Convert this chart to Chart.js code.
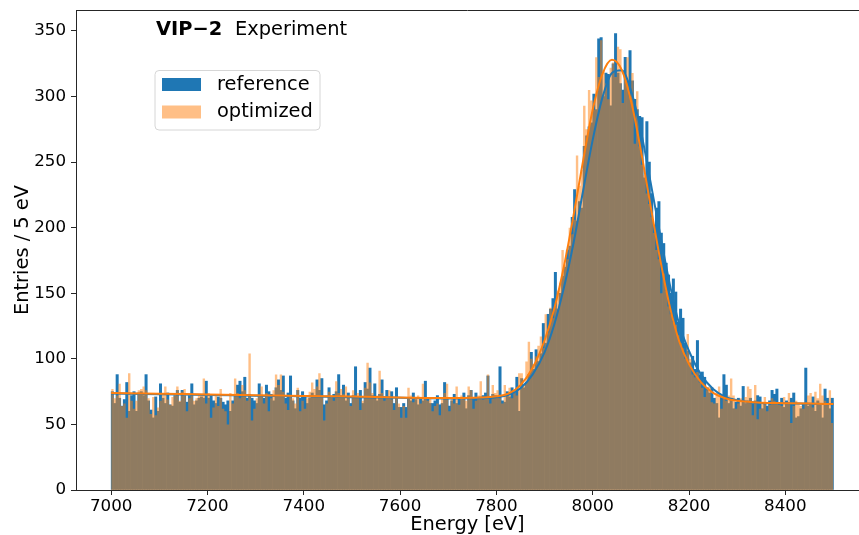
<!DOCTYPE html>
<html>
<head>
<meta charset="utf-8">
<title>VIP-2 Experiment</title>
<script src="https://cdn.jsdelivr.net/npm/chart.js@4.4.1/dist/chart.umd.min.js"></script>
<style>
  html, body { margin: 0; padding: 0; background: #fff; }
  #chart { display: block; }
</style>
</head>
<body>
<canvas id="chart" width="859" height="535"></canvas>
<script>
// histogram: 300 bins of 5 eV from 7000 to 8500 eV
const binStart = 7000;
const binWidth = 5;

// entries per bin, reference setup (blue)
const refCounts = [
  75, 66, 88, 70, 64, 69, 82, 60, 72, 75,
  60, 74, 75, 72, 88, 68, 61, 55, 71, 60,
  81, 70, 66, 74, 65, 64, 72, 76, 67, 76,
  72, 67, 72, 81, 65, 68, 70, 71, 70, 83,
  70, 72, 68, 66, 71, 70, 67, 65, 68, 60,
  68, 72, 80, 83, 75, 86, 70, 73, 70, 68,
  66, 81, 72, 70, 80, 75, 73, 68, 78, 84,
  76, 87, 70, 74, 87, 68, 62, 76, 70, 75,
  72, 66, 70, 74, 71, 84, 76, 85, 65, 68,
  78, 70, 73, 75, 88, 72, 80, 68, 74, 66,
  72, 94, 70, 76, 66, 82, 77, 93, 72, 81,
  68, 73, 84, 71, 76, 70, 75, 66, 78, 63,
  63, 66, 63, 70, 68, 74, 69, 65, 70, 68,
  83, 70, 66, 66, 68, 72, 65, 66, 82, 70,
  64, 68, 73, 66, 70, 69, 74, 62, 72, 76,
  70, 74, 70, 71, 72, 74, 87, 70, 73, 72,
  70, 94, 68, 67, 75, 71, 78, 74, 86, 60,
  85, 78, 82, 88, 105, 92, 107, 98, 104, 127,
  112, 134, 138, 146, 166, 138, 150, 163, 170, 183,
  186, 208, 229, 205, 220, 215, 262, 270, 277, 280,
  302, 290, 344, 345, 300, 318, 317, 293, 325, 348,
  318, 310, 305, 330, 312, 335, 312, 298, 290, 285,
  284, 238, 281, 250, 226, 202, 215, 220, 196, 188,
  173, 164, 150, 161, 151, 128, 138, 131, 112, 106,
  97, 102, 92, 114, 88, 90, 86, 78, 74, 78,
  70, 66, 55, 72, 88, 80, 66, 70, 62, 67,
  70, 64, 79, 66, 68, 70, 66, 68, 72, 71,
  62, 66, 64, 68, 76, 73, 77, 66, 70, 63,
  68, 66, 70, 74, 55, 56, 62, 66, 93, 64,
  66, 71, 60, 68, 66, 55, 77, 70, 62, 70
];

// entries per bin, optimized setup (orange)
const optCounts = [
  77, 70, 72, 81, 64, 66, 55, 89, 68, 62,
  68, 76, 77, 79, 76, 70, 58, 71, 57, 63,
  68, 74, 79, 69, 65, 71, 74, 79, 68, 75,
  77, 60, 70, 72, 68, 70, 72, 73, 85, 66,
  74, 55, 63, 72, 64, 77, 62, 60, 50, 74,
  66, 85, 74, 70, 80, 76, 68, 104, 53, 62,
  70, 72, 79, 66, 74, 60, 70, 76, 88, 80,
  88, 75, 66, 61, 72, 70, 66, 78, 60, 68,
  62, 70, 75, 82, 77, 79, 89, 72, 53, 66,
  75, 72, 68, 83, 74, 77, 73, 79, 70, 64,
  76, 72, 74, 61, 68, 78, 97, 82, 74, 70,
  72, 91, 74, 68, 71, 76, 69, 61, 70, 66,
  55, 64, 55, 78, 72, 67, 70, 72, 66, 81,
  70, 68, 71, 60, 64, 66, 57, 70, 74, 81,
  60, 70, 66, 79, 65, 72, 70, 68, 79, 76,
  62, 68, 72, 83, 69, 70, 88, 66, 80, 74,
  76, 70, 66, 80, 72, 78, 70, 76, 72, 89,
  89, 80, 98, 113, 100, 96, 102, 110, 117, 108,
  134, 120, 139, 131, 140, 152, 158, 183, 172, 176,
  200, 195, 206, 255, 232, 244, 293, 275, 305, 297,
  290, 330, 315, 343, 320, 310, 298, 322, 326, 315,
  338, 336, 295, 312, 330, 300, 318, 264, 304, 262,
  248, 240, 226, 218, 208, 196, 183, 176, 150, 165,
  152, 140, 134, 128, 126, 118, 112, 108, 100, 119,
  100, 88, 86, 90, 82, 78, 71, 76, 79, 67,
  66, 74, 79, 62, 70, 68, 72, 85, 72, 62,
  66, 70, 67, 71, 79, 77, 57, 80, 54, 62,
  66, 71, 60, 65, 70, 68, 67, 65, 64, 71,
  66, 74, 51, 64, 68, 66, 64, 62, 67, 72,
  74, 63, 75, 70, 81, 72, 68, 65, 76, 51
];

// fitted curves
const fitEnergy = [7000, 7100, 7200, 7300, 7400, 7500, 7600, 7700, 7750, 7800, 7825, 7850, 7875, 7900,
  7920, 7940, 7960, 7980, 8000, 8020, 8040, 8060, 8080, 8100, 8120, 8140, 8160, 8180, 8200,
  8225, 8250, 8275, 8300, 8350, 8400, 8450, 8500];
const fitRef = [73.6, 73.0, 72.5, 71.9, 71.4, 70.8, 70.3, 69.8, 69.9, 70.8, 72.5, 77.5, 88, 105,
  126, 154, 188, 228, 267, 299, 318, 320, 304, 274, 235, 195, 157, 126, 106,
  88, 77, 71, 68.5, 66.4, 66.1, 65.8, 65.4];
const fitOpt = [74.0, 73.4, 72.9, 72.3, 71.7, 71.2, 70.6, 70.1, 70.3, 71.5, 73.5, 80, 93, 114,
  138, 170, 209, 251, 290, 317, 328, 320.5, 296, 259, 217, 176, 140, 113, 96,
  82, 74, 70, 68, 66.5, 66.2, 65.9, 65.5];

const xTicks = [7000, 7200, 7400, 7600, 7800, 8000, 8200, 8400];
const yTicks = [0, 50, 100, 150, 200, 250, 300, 350];

const BLUE = '#1f77b4';
const ORANGE = '#ff7f0e';
const ORANGE_HALF = 'rgba(255, 127, 14, 0.5)';
const FONT = '"DejaVu Sans", "Liberation Sans", sans-serif';
const AXIS = '#262626';

// one point per bin centre
function toBins(counts) {
    return counts.map(function (c, i) {
        return { x: binStart + binWidth * (i + 0.5), y: c };
    });
}

// same bins, plus the outer bin edges, for a filled step outline
function toSteps(counts) {
    const pts = toBins(counts);
    pts.unshift({ x: binStart, y: counts[0] });
    pts.push({ x: binStart + binWidth * counts.length, y: counts[counts.length - 1] });
    return pts;
}

function toCurve(values) {
    return fitEnergy.map(function (e, i) {
        return { x: e, y: values[i] };
    });
}

// top spine, experiment label and legend box drawn on the canvas
const decorations = {
    id: 'decorations',
    afterDraw(chart) {
        const ctx = chart.ctx;
        const area = chart.chartArea;
        ctx.save();

        ctx.strokeStyle = AXIS;
        ctx.lineWidth = 1;
        ctx.beginPath();
        ctx.moveTo(area.left, area.top + 0.5);
        ctx.lineTo(area.right, area.top + 0.5);
        ctx.stroke();

        ctx.fillStyle = '#000';
        ctx.textBaseline = 'alphabetic';
        ctx.textAlign = 'left';
        ctx.font = 'bold 19.4px ' + FONT;
        ctx.fillText('VIP\u22122', area.left + 80, area.top + 25);
        ctx.font = '19.4px ' + FONT;
        ctx.fillText('Experiment', area.left + 159, area.top + 25);

        // legend
        const lx = area.left + 79, ly = area.top + 60.5, lw = 165, lh = 59.5;
        ctx.beginPath();
        ctx.roundRect(lx, ly, lw, lh, 4);
        ctx.fillStyle = 'rgba(255, 255, 255, 0.8)';
        ctx.fill();
        ctx.strokeStyle = '#d6d6d6';
        ctx.stroke();

        ctx.fillStyle = BLUE;
        ctx.fillRect(lx + 7, ly + 7.5, 39, 13);
        ctx.fillStyle = ORANGE_HALF;
        ctx.fillRect(lx + 7, ly + 35, 39, 13);

        ctx.fillStyle = '#000';
        ctx.textBaseline = 'middle';
        ctx.font = '19.4px ' + FONT;
        ctx.fillText('reference', lx + 62, ly + 14);
        ctx.fillText('optimized', lx + 62, ly + 41.5);

        ctx.restore();
    }
};

new Chart(document.getElementById('chart').getContext('2d'), {
    type: 'bar',
    data: {
        datasets: [
            {
                label: 'reference', data: toBins(refCounts), backgroundColor: BLUE, order: 4,
                grouped: false, barPercentage: 1, categoryPercentage: 1, borderWidth: 0,
                inflateAmount: 0.3
            },
            {
                // half transparent histogram as one filled step shape, so bins don't leave seams
                type: 'line', label: 'optimized', data: toSteps(optCounts),
                stepped: 'middle', fill: 'origin', backgroundColor: ORANGE_HALF,
                borderWidth: 0, borderColor: 'rgba(0,0,0,0)', pointRadius: 0, order: 3
            },
            {
                type: 'line', label: 'fit reference', data: toCurve(fitRef),
                borderColor: BLUE, borderWidth: 2, pointRadius: 0,
                cubicInterpolationMode: 'monotone', order: 2
            },
            {
                type: 'line', label: 'fit optimized', data: toCurve(fitOpt),
                borderColor: ORANGE, borderWidth: 2, pointRadius: 0,
                cubicInterpolationMode: 'monotone', order: 1
            }
        ]
    },
    options: {
        responsive: false,
        animation: false,
        devicePixelRatio: 1,
        layout: { padding: { top: 10, right: 0, bottom: 0, left: 0 } },
        plugins: {
            legend: { display: false },
            tooltip: { enabled: false }
        },
        scales: {
            x: {
                type: 'linear',
                offset: false,
                min: 6927,
                max: 8553,
                afterBuildTicks: function (scale) {
                    scale.ticks = xTicks.map(function (v) { return { value: v }; });
                },
                afterFit: function (scale) {
                    scale.height = 45;
                    scale.paddingLeft = 0;
                    scale.paddingRight = 0;
                },
                grid: { offset: false, drawOnChartArea: false, drawTicks: true, tickLength: 5, tickColor: AXIS, tickWidth: 1 },
                border: { display: true, color: AXIS, width: 1 },
                ticks: {
                    color: '#000', padding: 2, maxRotation: 0, autoSkip: false,
                    font: { family: FONT, size: 16.7 },
                    callback: function (v) { return String(v); }
                },
                title: {
                    display: true, text: 'Energy [eV]', color: '#000',
                    font: { family: FONT, size: 19.4, lineHeight: 1.0 },
                    padding: { top: 0, bottom: 0 }
                }
            },
            y: {
                min: 0,
                max: 366,
                afterBuildTicks: function (scale) {
                    scale.ticks = yTicks.map(function (v) { return { value: v }; });
                },
                afterFit: function (scale) {
                    scale.width = 76;
                    scale.paddingTop = 0;
                    scale.paddingBottom = 0;
                },
                grid: { drawOnChartArea: false, drawTicks: true, tickLength: 5, tickColor: AXIS, tickWidth: 1 },
                border: { display: true, color: AXIS, width: 1 },
                ticks: {
                    color: '#000', padding: 5,
                    font: { family: FONT, size: 16.7 }
                },
                title: {
                    display: true, text: 'Entries / 5 eV', color: '#000',
                    font: { family: FONT, size: 19.4, lineHeight: 1.2 },
                    padding: { top: 11, bottom: 0 }
                }
            }
        }
    },
    plugins: [decorations]
});
</script>
</body>
</html>
